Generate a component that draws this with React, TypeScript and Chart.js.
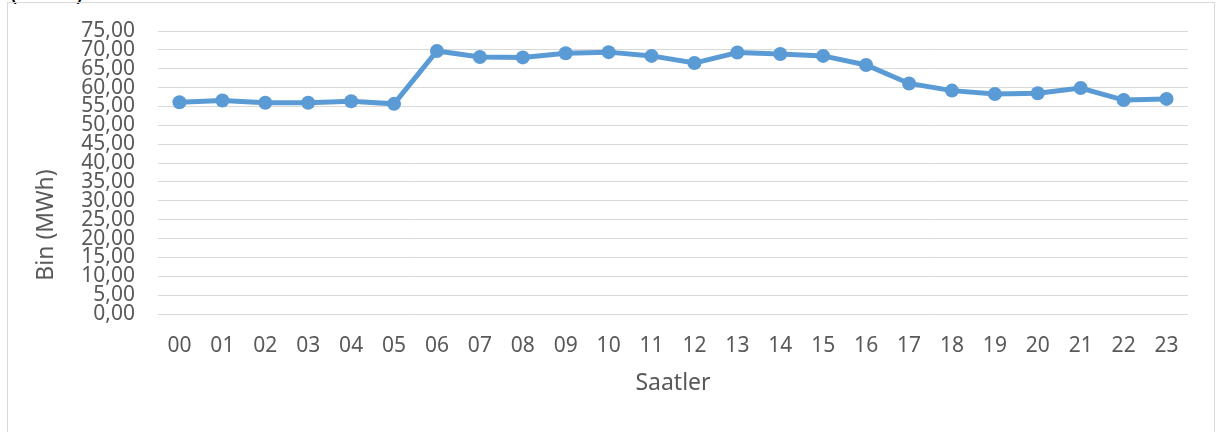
import React, { useEffect, useRef } from "react";
import { Chart, registerables } from "chart.js";

Chart.register(...registerables);

const hours: string[] = [
  "00", "01", "02", "03", "04", "05", "06", "07", "08", "09", "10", "11",
  "12", "13", "14", "15", "16", "17", "18", "19", "20", "21", "22", "23",
];

const volumes: number[] = [
  56.1, 56.6, 56.0, 56.0, 56.4, 55.7, 69.7, 68.1, 68.0, 69.1, 69.4, 68.4,
  66.5, 69.3, 68.9, 68.4, 66.0, 61.1, 59.2, 58.3, 58.5, 59.9, 56.7, 57.0,
];

const yTitle = "Bin (MWh)";
const xTitle = "Saatler";
const topCutText = "(MWh)";

const FONT = '"Noto Sans", "Open Sans", sans-serif';
const TEXT_COLOR = "#595959";
const LINE_COLOR = "#5B9BD5";
const GRID_COLOR = "#D9D9D9";

const titlesPlugin = {
  id: "axisTitles",
  afterDraw(chart: any) {
    const { ctx, chartArea } = chart;
    ctx.save();
    ctx.fillStyle = TEXT_COLOR;
    ctx.font = `23px ${FONT}`;
    ctx.textAlign = "center";
    ctx.textBaseline = "middle";
    ctx.fillText(xTitle, (chartArea.left + chartArea.right) / 2, chartArea.bottom + 69);
    ctx.translate(chartArea.left - 112, chartArea.bottom - 89);
    ctx.rotate(-Math.PI / 2);
    ctx.fillText(yTitle, 0, 0);
    ctx.restore();
  },
};

export default function App() {
  const canvasRef = useRef<HTMLCanvasElement | null>(null);

  useEffect(() => {
    document.body.style.margin = "0";
    const canvas = canvasRef.current;
    if (!canvas) return;
    const chart = new Chart(canvas, {
      type: "line",
      data: {
        labels: hours,
        datasets: [
          {
            data: volumes,
            borderColor: LINE_COLOR,
            backgroundColor: LINE_COLOR,
            borderWidth: 5,
            pointRadius: 7,
            pointHoverRadius: 7,
            pointBackgroundColor: LINE_COLOR,
            pointBorderWidth: 0,
            tension: 0,
          },
        ],
      },
      options: {
        animation: false,
        responsive: true,
        maintainAspectRatio: false,
        layout: { padding: { left: 8, right: 29, top: 31, bottom: 0 } },
        plugins: {
          legend: { display: false },
          tooltip: { enabled: false },
          title: { display: false },
        },
        scales: {
          x: {
            offset: true,
            grid: { display: false, drawTicks: false },
            border: { display: false },
            ticks: {
              color: TEXT_COLOR,
              font: { family: FONT, size: 21 },
              padding: 19,
              maxRotation: 0,
              autoSkip: false,
            },
            afterFit: (s: any) => {
              s.height = 118;
              s.paddingLeft = 0;
              s.paddingRight = 0;
            },
          },
          y: {
            min: 0,
            max: 75,
            grid: { color: GRID_COLOR, lineWidth: 1, drawTicks: false },
            border: { display: false },
            ticks: {
              stepSize: 5,
              autoSkip: false,
              color: TEXT_COLOR,
              font: { family: FONT, size: 21 },
              padding: 23,
              callback: (v: any) => Number(v).toFixed(2).replace(".", ","),
            },
            afterFit: (s: any) => {
              s.width = 150;
              s.paddingTop = 0;
              s.paddingBottom = 0;
            },
          },
        },
      },
      plugins: [titlesPlugin],
    });
    return () => chart.destroy();
  }, []);

  return (
    <div style={{ position: "fixed", left: 0, top: 0, width: 1217, height: 432, overflow: "hidden", background: "#fff" }}>
      <div
        style={{
          position: "absolute",
          left: 10,
          top: -21,
          fontFamily: FONT,
          fontSize: 24,
          lineHeight: "24px",
          color: "#000",
          whiteSpace: "nowrap",
        }}
      >
        {topCutText}
      </div>
      <div
        style={{
          position: "absolute",
          left: 7,
          top: 2,
          width: 1208,
          height: 440,
          border: `1px solid ${GRID_COLOR}`,
          boxSizing: "border-box",
        }}
      />
      <div style={{ position: "absolute", left: 0, top: 0, width: 1217, height: 432 }}>
        <canvas ref={canvasRef} />
      </div>
    </div>
  );
}
